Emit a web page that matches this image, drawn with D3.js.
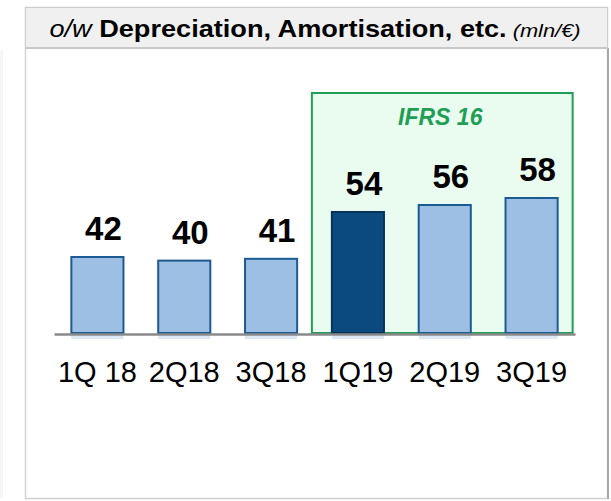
<!DOCTYPE html>
<html>
<head>
<meta charset="utf-8">
<script src="https://cdn.jsdelivr.net/npm/d3@7"></script>
<style>
  body { margin: 0; background: #fff; }
  svg { display: block; font-family: "Liberation Sans", Arial, sans-serif; }
</style>
</head>
<body>
<svg id="chart" width="611" height="501"></svg>
<script>
// ---------------------------- DATA ----------------------------
const quarters = ["1Q 18", "2Q18", "3Q18", "1Q19", "2Q19", "3Q19"];
const values = [42, 40, 41, 54, 56, 58];
const ifrsQuarters = ["1Q19", "2Q19", "3Q19"]; // shown in the IFRS 16 box
const highlighted = ["1Q19"];                 // dark bar

const svg = d3.select("#chart");

// Panel frame
svg.append("rect")
    .attr("x", 0).attr("y", 50).attr("width", 3).attr("height", 448)
    .style("fill", "#f6f6f6");
svg.append("rect")
    .attr("x", 25.5).attr("y", 7.5).attr("width", 582).attr("height", 491)
    .style("fill", "#fff").style("stroke", "#d2d2d2").style("stroke-width", 1.5);
svg.append("line")
    .attr("x1", 608).attr("x2", 608).attr("y1", 48).attr("y2", 499)
    .style("stroke", "#a8a8a8").style("stroke-width", 2);

// Header band
svg.append("rect")
    .attr("x", 25.5).attr("y", 7.5).attr("width", 582).attr("height", 40)
    .style("fill", "#f0f0f0").style("stroke", "#cdcdcd").style("stroke-width", 1);
svg.append("line")
    .attr("x1", 25).attr("x2", 608).attr("y1", 48).attr("y2", 48)
    .style("stroke", "#c8c8c8").style("stroke-width", 2);

// title is a little wider than the font, so stretch it horizontally
const title = svg.append("text")
    .attr("transform", "translate(315,37) scale(1.18,1)")
    .attr("text-anchor", "middle")
    .style("fill", "#000");
title.append("tspan").text("o/w ").style("font-style", "italic").style("font-size", "23px");
title.append("tspan").text("Depreciation, Amortisation, etc.").style("font-weight", "bold").style("font-size", "23px");
title.append("tspan").text(" (mln/€)").style("font-style", "italic").style("font-size", "18.5px");

// ---------------------------- SCALES ----------------------------
const baseline = 333;
const x = d3.scaleBand()
    .domain(quarters)
    .range([54, 575])
    .paddingInner(0.4)
    .paddingOuter(0.2);

// the two periods are drawn on different scales in the source slide
const yPre = d3.scaleLinear().domain([0, 42]).range([baseline, 257]);
const yIfrs = d3.scaleLinear().domain([19.4, 58]).range([baseline, 198]);
const yFor = q => ifrsQuarters.includes(q) ? yIfrs : yPre;

// IFRS 16 box
const boxLeft = x(ifrsQuarters[0]) - 20;
const boxRight = x(ifrsQuarters[ifrsQuarters.length - 1]) + x.bandwidth() + 15;
svg.append("rect")
    .attr("x", boxLeft).attr("y", 93)
    .attr("width", boxRight - boxLeft).attr("height", baseline - 93)
    .style("fill", "#eafcef").style("stroke", "#1f9e55").style("stroke-width", 2);
svg.append("text")
    .attr("x", (boxLeft + boxRight) / 2 - 2).attr("y", 125)
    .attr("text-anchor", "middle")
    .style("font-size", "23px").style("font-weight", "bold").style("font-style", "italic")
    .style("fill", "#1f9e55")
    .text("IFRS 16");

// ---------------------------- BARS ----------------------------
const data = quarters.map((q, i) => ({ q: q, v: values[i] }));

// faint reflection just under the axis
svg.append("g")
    .selectAll("rect")
    .data(data)
    .enter()
    .append("rect")
    .attr("x", d => x(d.q))
    .attr("width", x.bandwidth())
    .attr("y", baseline + 2)
    .attr("height", 4)
    .style("fill", "#dce8f5");

svg.append("g")
    .selectAll("rect")
    .data(data)
    .enter()
    .append("rect")
    .attr("x", d => x(d.q))
    .attr("width", x.bandwidth())
    .attr("y", d => yFor(d.q)(d.v))
    .attr("height", d => baseline - yFor(d.q)(d.v))
    .style("fill", d => highlighted.includes(d.q) ? "#0b4a7e" : "#9dbfe3")
    .style("stroke", d => highlighted.includes(d.q) ? "#063358" : "#1c5a94")
    .style("stroke-width", 2);

svg.append("g")
    .selectAll("text")
    .data(data)
    .enter()
    .append("text")
    .attr("x", d => x(d.q) + x.bandwidth() / 2 + 6)
    .attr("y", d => yFor(d.q)(d.v) - 17)
    .attr("text-anchor", "middle")
    .style("font-size", "33px").style("font-weight", "bold").style("fill", "#000")
    .text(d => d.v);

// ---------------------------- AXIS ----------------------------
const axis = svg.append("g")
    .attr("transform", "translate(0," + (baseline + 1) + ")")
    .call(d3.axisBottom(x).tickSize(0).tickSizeOuter(0).tickPadding(27));
axis.select(".domain").style("stroke", "#8a8a8a").style("stroke-width", 2.5);
axis.selectAll("text")
    .style("font-family", "\"Liberation Sans\", Arial, sans-serif")
    .style("font-size", "29px").style("fill", "#000");
</script>
</body>
</html>
